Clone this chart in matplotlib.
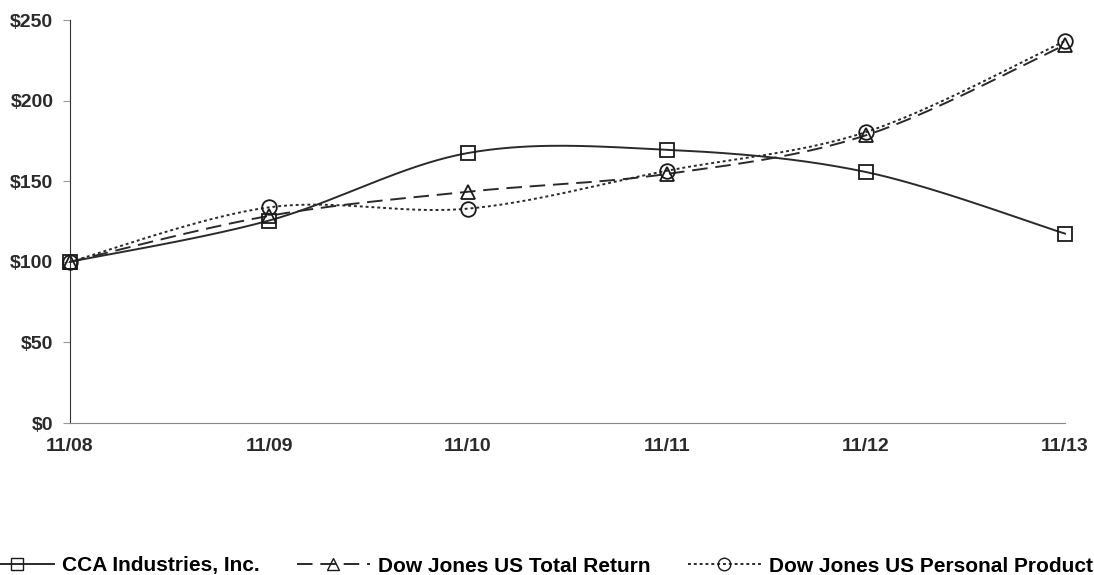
import matplotlib.pyplot as plt
import numpy as np

years = ['11/08', '11/09', '11/10', '11/11', '11/12', '11/13']
cca = [100, 125.6, 167.5, 169.5, 155.7, 117.5]
dj_total = [100, 128.5, 143.5, 154.5, 178.5, 234.5]
dj_personal = [100, 133.8, 133, 156.5, 180.5, 237]
yticks = [0, 50, 100, 150, 200, 250]


def smooth(y, n=40):
    # excel-like smoothed line (cardinal bezier)
    x = np.arange(len(y), dtype=float)
    y = np.asarray(y, dtype=float)
    px, py = [], []
    for i in range(len(y) - 1):
        x0, y0 = x[max(i - 1, 0)], y[max(i - 1, 0)]
        x3, y3 = x[min(i + 2, len(y) - 1)], y[min(i + 2, len(y) - 1)]
        p1 = (x[i] + (x[i + 1] - x0) / 6, y[i] + (y[i + 1] - y0) / 6)
        p2 = (x[i + 1] - (x3 - x[i]) / 6, y[i + 1] - (y3 - y[i]) / 6)
        t = np.linspace(0, 1, n)
        bx = (1-t)**3*x[i] + 3*(1-t)**2*t*p1[0] + 3*(1-t)*t**2*p2[0] + t**3*x[i+1]
        by = (1-t)**3*y[i] + 3*(1-t)**2*t*p1[1] + 3*(1-t)*t**2*p2[1] + t**3*y[i+1]
        px.extend(bx)
        py.extend(by)
    return np.array(px), np.array(py)


plt.rcParams['font.family'] = ['Liberation Sans', 'DejaVu Sans']
plt.rcParams['font.weight'] = 'bold'

fig = plt.figure(figsize=(10.94, 5.75), dpi=100)
ax = fig.add_axes([0.064, 0.2643, 0.9095, 0.7009])

styles = [
    (cca, 's', '-', 'CCA Industries, Inc.'),
    (dj_total, '^', (0, (8, 4)), 'Dow Jones US Total Return'),
    (dj_personal, 'o', (0, (1.5, 1.5)), 'Dow Jones US Personal Products'),
]
xs = np.arange(len(years))
handles = []
for vals, mk, ls, lab in styles:
    sx, sy = smooth(vals)
    ax.plot(sx, sy, color='#2a2a2a', linestyle=ls, linewidth=1.4, clip_on=False)
    ax.plot(xs, vals, linestyle='none', marker=mk, markersize=10.5,
            markerfacecolor='none', markeredgecolor='#1a1a1a', markeredgewidth=1.3,
            clip_on=False, zorder=3)
    h, = ax.plot([], [], color='#2a2a2a', linestyle=ls, linewidth=1.4, marker=mk,
                 markersize=9, markerfacecolor='none', markeredgecolor='#1a1a1a',
                 label=lab)
    handles.append(h)

ax.set_xlim(0, len(years) - 1)
ax.set_ylim(0, 250)
ax.set_xticks(xs)
ax.set_xticklabels(years, fontsize=14, color='#2a2a2a')
ax.set_yticks(yticks)
ax.set_yticklabels(['$%d' % v for v in yticks], fontsize=14, color='#2a2a2a')
ax.tick_params(axis='y', length=5, color='#999999', pad=7)
ax.tick_params(axis='x', length=0, pad=11)
for s in ['top', 'right']:
    ax.spines[s].set_visible(False)
ax.spines['left'].set_color('#333333')
ax.spines['bottom'].set_color('#888888')

fig.legend(handles=handles, loc='center left', bbox_to_anchor=(-19 / 1094, 9 / 575),
           ncol=3, frameon=False, fontsize=15, handlelength=3.5,
           columnspacing=1.8, handletextpad=0.38, borderpad=0, borderaxespad=0)

fig.savefig('out.png', dpi=100)
